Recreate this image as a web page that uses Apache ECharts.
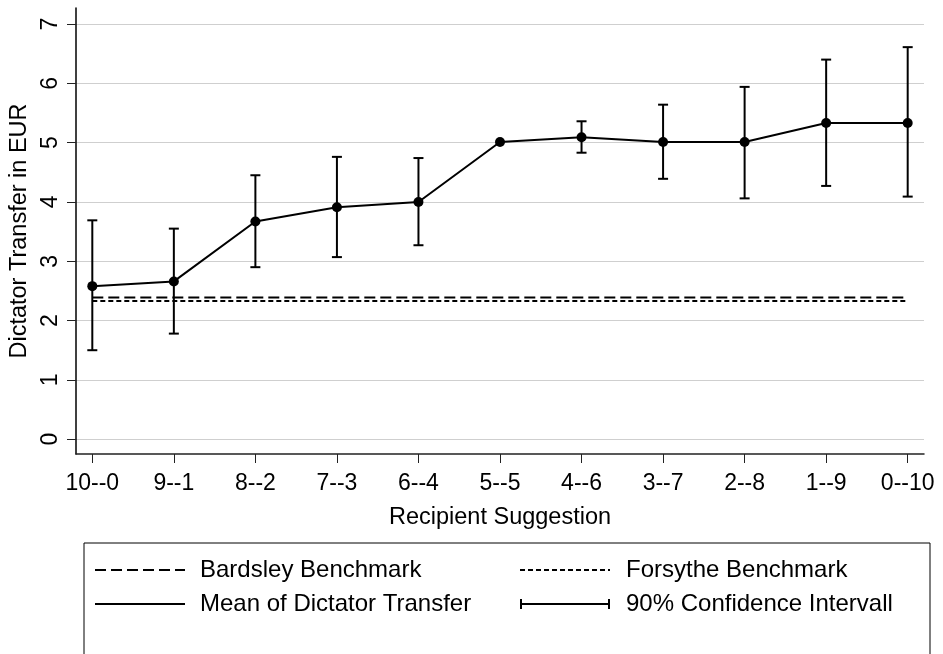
<!DOCTYPE html>
<html>
<head>
<meta charset="utf-8">
<script src="https://cdn.jsdelivr.net/npm/echarts@6/dist/echarts.min.js"></script>
<style>
  html, body { margin: 0; padding: 0; background: #fff; }
  #chart { width: 943px; height: 654px; }
</style>
</head>
<body>
<div id="chart"></div>
<script>
// recipient suggestion categories (x positions 0..10)
const categories = ['10--0', '9--1', '8--2', '7--3', '6--4', '5--5', '4--6', '3--7', '2--8', '1--9', '0--10'];
// mean dictator transfer
const meanTransfer = [2.58, 2.66, 3.67, 3.91, 4.00, 5.01, 5.09, 5.01, 5.01, 5.33, 5.33];
// 90% confidence interval bounds (null = none shown)
const ciLower = [1.50, 1.78, 2.90, 3.07, 3.27, null, 4.83, 4.39, 4.06, 4.27, 4.09];
const ciUpper = [3.69, 3.55, 4.45, 4.76, 4.74, null, 5.36, 5.64, 5.94, 6.40, 6.61];
// benchmarks
const bardsley = 2.39;
const forsythe = 2.33;
const yTicks = [0, 1, 2, 3, 4, 5, 6, 7];

const font = 'Liberation Sans, Arial, sans-serif';
const xIdx = categories.map((c, i) => i);

const chart = echarts.init(document.getElementById('chart'));

const errData = xIdx
  .filter(i => ciLower[i] !== null)
  .map(i => [i, ciLower[i], ciUpper[i]]);

const option = {
  backgroundColor: '#fff',
  animation: false,
  grid: { left: 76, right: 19, top: 8, bottom: 200, outerBoundsMode: 'none', containLabel: false },
  xAxis: {
    type: 'value',
    min: -0.2,
    max: 10.2,
    name: 'Recipient Suggestion',
    nameLocation: 'middle',
    nameGap: 52,
    nameTextStyle: { fontFamily: font, fontSize: 23.5, color: '#000' },
    axisLine: { show: true, onZero: false, lineStyle: { color: '#222', width: 1.5 } },
    axisTick: { show: true, length: 9, lineStyle: { color: '#222', width: 1 }, customValues: xIdx },
    axisLabel: {
      customValues: xIdx,
      margin: 18,
      fontFamily: font, fontSize: 23, color: '#000',
      formatter: v => categories[Math.round(v)]
    },
    splitLine: { show: false }
  },
  yAxis: {
    type: 'value',
    min: -0.25,
    max: 7.27,
    name: 'Dictator Transfer in EUR',
    nameLocation: 'middle',
    nameGap: 42,
    nameTextStyle: { fontFamily: font, fontSize: 23.5, color: '#000' },
    axisLine: { show: true, onZero: false, lineStyle: { color: '#000', width: 1.5 } },
    axisTick: { show: true, length: 9, lineStyle: { color: '#222', width: 1 }, customValues: yTicks },
    axisLabel: {
      customValues: yTicks,
      rotate: 90,
      margin: 14,
      fontFamily: font, fontSize: 23, color: '#000'
    },
    splitLine: { show: true, lineStyle: { color: '#cfcfcf', width: 1.2 } }
  },
  series: [
    {
      name: 'Bardsley Benchmark',
      type: 'line',
      data: [[0, bardsley], [10, bardsley]],
      symbol: 'none',
      lineStyle: { color: '#000', width: 2, type: [11, 5] },
      z: 2
    },
    {
      name: 'Forsythe Benchmark',
      type: 'line',
      data: [[0, forsythe], [10, forsythe]],
      symbol: 'none',
      lineStyle: { color: '#000', width: 2, type: [5, 3] },
      z: 2
    },
    {
      name: '90% Confidence Intervall',
      type: 'custom',
      data: errData,
      renderItem: (params, api) => {
        const x = api.value(0);
        const lo = api.coord([x, api.value(1)]);
        const hi = api.coord([x, api.value(2)]);
        const w = 5;
        const style = { stroke: '#000', lineWidth: 2 };
        return {
          type: 'group',
          children: [
            { type: 'line', shape: { x1: lo[0], y1: lo[1], x2: hi[0], y2: hi[1] }, style },
            { type: 'line', shape: { x1: lo[0] - w, y1: lo[1], x2: lo[0] + w, y2: lo[1] }, style },
            { type: 'line', shape: { x1: hi[0] - w, y1: hi[1], x2: hi[0] + w, y2: hi[1] }, style }
          ]
        };
      },
      z: 3
    },
    {
      name: 'Mean of Dictator Transfer',
      type: 'line',
      data: xIdx.map(i => [i, meanTransfer[i]]),
      symbol: 'circle',
      symbolSize: 10,
      itemStyle: { color: '#000' },
      lineStyle: { color: '#000', width: 2 },
      z: 4
    }
  ],
  graphic: [
    {
      type: 'rect',
      shape: { x: 84, y: 543, width: 846, height: 130 },
      style: { fill: '#fff', stroke: '#000', lineWidth: 1 }
    },
    // row 1
    { type: 'line', shape: { x1: 95, y1: 570, x2: 185, y2: 570 }, style: { stroke: '#000', lineWidth: 2, lineDash: [11, 5] } },
    { type: 'text', x: 200, y: 570, style: { text: 'Bardsley Benchmark', font: '24px ' + font, fill: '#000', verticalAlign: 'middle' } },
    { type: 'line', shape: { x1: 520, y1: 570, x2: 610, y2: 570 }, style: { stroke: '#000', lineWidth: 2, lineDash: [5, 3] } },
    { type: 'text', x: 626, y: 570, style: { text: 'Forsythe Benchmark', font: '24px ' + font, fill: '#000', verticalAlign: 'middle' } },
    // row 2
    { type: 'line', shape: { x1: 95, y1: 604, x2: 185, y2: 604 }, style: { stroke: '#000', lineWidth: 2 } },
    { type: 'text', x: 200, y: 604, style: { text: 'Mean of Dictator Transfer', font: '24px ' + font, fill: '#000', verticalAlign: 'middle' } },
    { type: 'line', shape: { x1: 521, y1: 604, x2: 609, y2: 604 }, style: { stroke: '#000', lineWidth: 2 } },
    { type: 'line', shape: { x1: 521, y1: 599, x2: 521, y2: 609 }, style: { stroke: '#000', lineWidth: 2 } },
    { type: 'line', shape: { x1: 609, y1: 599, x2: 609, y2: 609 }, style: { stroke: '#000', lineWidth: 2 } },
    { type: 'text', x: 626, y: 604, style: { text: '90% Confidence Intervall', font: '24px ' + font, fill: '#000', verticalAlign: 'middle' } }
  ]
};

chart.setOption(option);
</script>
</body>
</html>
